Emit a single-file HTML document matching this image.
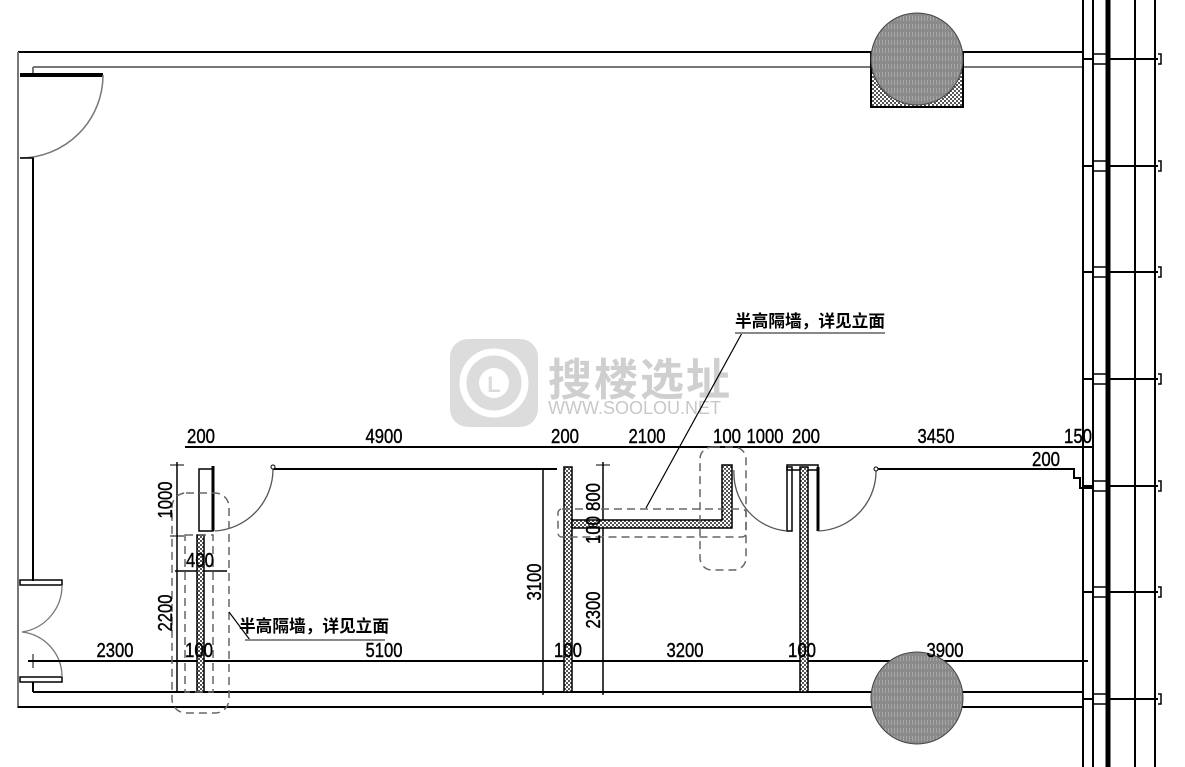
<!DOCTYPE html>
<html><head><meta charset="utf-8"><style>
html,body{margin:0;padding:0;background:#fff;}
svg{display:block;}
.d{font-family:"Liberation Sans",sans-serif;font-size:20px;fill:#000;text-anchor:middle;stroke:#000;stroke-width:0.4;}
.cn{font-family:"Liberation Sans","Noto Sans CJK SC",sans-serif;font-size:17px;font-weight:bold;fill:#000;}
</style></head><body>
<svg width="1185" height="767" viewBox="0 0 1185 767" xmlns="http://www.w3.org/2000/svg">
<defs>
<pattern id="h" width="4" height="4" patternUnits="userSpaceOnUse"><rect width="4" height="4" fill="#fff"/><rect width="2" height="2" fill="#555"/><rect x="2" y="2" width="2" height="2" fill="#555"/></pattern>
<pattern id="cg" width="3" height="8" patternUnits="userSpaceOnUse"><rect width="3" height="8" fill="#8a8a8a"/><rect width="1" height="5" fill="#a5a5a5"/></pattern>
</defs>
<!-- watermark -->
<rect x="450" y="339" width="88" height="88" rx="18" fill="#dcdcdc"/>
<circle cx="494" cy="383" r="31" fill="none" stroke="#fff" stroke-width="7"/>
<circle cx="494" cy="383" r="15" fill="#fff"/>
<text x="494" y="392" text-anchor="middle" font-family="Liberation Sans" font-weight="bold" font-size="22" fill="#dcdcdc">L</text>
<text x="548" y="395" font-family="Liberation Sans,'Noto Sans CJK SC',sans-serif" font-weight="bold" font-size="44" fill="#cfcfcf" letter-spacing="2">搜楼选址</text>
<text x="548" y="414" font-family="Liberation Sans,sans-serif" font-size="18" fill="#c8c8c8">WWW.SOOLOU.NET</text>

<g stroke="#000" fill="none" stroke-width="2">
<line x1="18" y1="52" x2="1083" y2="52"/>
<line x1="33" y1="67" x2="1083" y2="67" stroke="#777"/>
<line x1="33" y1="67" x2="33" y2="75" stroke="#777"/>
<line x1="18" y1="52" x2="18" y2="708" stroke="#777"/>
<line x1="33" y1="157" x2="33" y2="581"/>
<line x1="20" y1="75" x2="103" y2="75" stroke-width="4"/>
<path d="M103 75 A83 83 0 0 1 20 158" stroke="#777" stroke-width="1.5"/>
<line x1="20" y1="158" x2="33" y2="158" stroke-width="1.5"/>
<rect x="20" y="580" width="42" height="5" stroke-width="1.5"/>
<rect x="20" y="677" width="42" height="5" stroke-width="1.5"/>
<path d="M62 585 A47 47 0 0 1 22 632" stroke="#777" stroke-width="1.3"/>
<path d="M62 677 A45 45 0 0 0 22 632" stroke="#777" stroke-width="1.3"/>
<line x1="33" y1="682" x2="33" y2="692"/>
<line x1="33" y1="692" x2="1083" y2="692"/>
<line x1="18" y1="707" x2="1083" y2="707"/>
<line x1="185" y1="447" x2="1092" y2="447"/>
<line x1="28" y1="661" x2="1088" y2="661"/>
<line x1="33" y1="654" x2="33" y2="668" stroke-width="1"/>
<line x1="177" y1="462" x2="177" y2="692" stroke-width="1.5"/>
<line x1="170" y1="465" x2="184" y2="465" stroke-width="1"/>
<line x1="170" y1="536" x2="184" y2="536" stroke-width="1"/>
<line x1="170" y1="692" x2="184" y2="692" stroke-width="1"/>
<line x1="175" y1="571" x2="227" y2="571" stroke-width="1.5"/>
<line x1="543" y1="469" x2="543" y2="695" stroke-width="1.5"/>
<line x1="603" y1="462" x2="603" y2="695" stroke-width="1.5"/>
<line x1="596" y1="465" x2="610" y2="465" stroke-width="1"/>
<rect x="199" y="469" width="14" height="62" stroke-width="1.5"/>
<line x1="213" y1="466" x2="213" y2="531" stroke-width="3"/>
<line x1="273" y1="469" x2="557" y2="469"/>
<path d="M273 469 A62 62 0 0 1 215 531" stroke="#555" stroke-width="1.3"/>
<circle cx="273" cy="467" r="2" stroke-width="1" fill="#fff"/>
<line x1="876" y1="469" x2="1068" y2="469"/>
<path d="M1068 469 H1074 V478 H1080 V488 H1092" stroke-width="2"/>
<rect x="787" y="467" width="5" height="64" stroke-width="1.5"/>
<line x1="818" y1="467" x2="818" y2="531" stroke-width="3"/>
<rect x="787" y="465" width="31" height="5" stroke-width="1.5"/>
<path d="M734 470 A58 58 0 0 0 787 531" stroke="#555" stroke-width="1.3"/>
<path d="M818 531 A60 60 0 0 0 876 469" stroke="#555" stroke-width="1.3"/>
<circle cx="876" cy="469" r="2" stroke-width="1" fill="#fff"/>
</g>
<g stroke="#000" stroke-width="1.5" fill="url(#h)">
<rect x="564" y="467" width="8" height="225"/>
<rect x="197" y="535" width="7" height="157"/>
<rect x="800" y="467" width="8" height="225"/>
<path d="M572 520 H722 V465 H732 V528 H572 Z"/>
</g>
<g stroke="#666" stroke-width="1.5" fill="none" stroke-dasharray="8,5">
<rect x="172" y="493" width="57" height="220" rx="14"/>
<rect x="185" y="535" width="28" height="157"/>
<rect x="558" y="509" width="188" height="28" rx="4"/>
<rect x="700" y="447" width="46" height="123" rx="12"/>
</g>
<rect x="871" y="52" width="92" height="55" fill="url(#h)" stroke="#000" stroke-width="2"/>
<circle cx="917" cy="59" r="46" fill="url(#cg)" stroke="#444" stroke-width="1"/>
<circle cx="917" cy="698" r="46" fill="url(#cg)" stroke="#444" stroke-width="1"/>
<g stroke="#000" fill="none" stroke-width="2">
<line x1="1083" y1="0" x2="1083" y2="767"/>
<line x1="1093" y1="0" x2="1093" y2="767"/>
<line x1="1108" y1="0" x2="1108" y2="767" stroke-width="5"/>
<line x1="1135" y1="0" x2="1135" y2="767"/>
<line x1="1155" y1="0" x2="1155" y2="767"/>
<g id="t">
<line x1="1083" y1="59" x2="1093" y2="59"/>
<line x1="1093" y1="54" x2="1108" y2="54" stroke-width="1.5"/>
<line x1="1093" y1="64" x2="1108" y2="64" stroke-width="1.5"/>
<line x1="1108" y1="59" x2="1135" y2="59"/>
<line x1="1135" y1="59" x2="1158" y2="59"/>
<path d="M1158 54 h3 v10 h-3" stroke-width="1.5"/>
</g>
<use href="#t" y="107"/><use href="#t" y="213"/><use href="#t" y="320"/>
<use href="#t" y="427"/><use href="#t" y="533"/><use href="#t" y="640"/>
</g>
<g stroke="#000" stroke-width="1.2" fill="none">
<line x1="646" y1="508" x2="742" y2="333"/>
<line x1="735" y1="333" x2="885" y2="333" stroke="#888" stroke-width="2"/>
<line x1="229" y1="612" x2="250" y2="640"/>
<line x1="245" y1="640" x2="385" y2="640" stroke="#888" stroke-width="2"/>
</g>
<text class="cn" x="735" y="327" textLength="150" lengthAdjust="spacingAndGlyphs">半高隔墙，详见立面</text>
<text class="cn" x="239" y="632" textLength="150" lengthAdjust="spacingAndGlyphs">半高隔墙，详见立面</text>
<g class="d">
<text x="201" y="443" textLength="28" lengthAdjust="spacingAndGlyphs">200</text>
<text x="384" y="443" textLength="37" lengthAdjust="spacingAndGlyphs">4900</text>
<text x="565" y="443" textLength="28" lengthAdjust="spacingAndGlyphs">200</text>
<text x="647" y="443" textLength="37" lengthAdjust="spacingAndGlyphs">2100</text>
<text x="727" y="443" textLength="28" lengthAdjust="spacingAndGlyphs">100</text>
<text x="765" y="443" textLength="37" lengthAdjust="spacingAndGlyphs">1000</text>
<text x="806" y="443" textLength="28" lengthAdjust="spacingAndGlyphs">200</text>
<text x="936" y="443" textLength="37" lengthAdjust="spacingAndGlyphs">3450</text>
<text x="1078" y="443" textLength="28" lengthAdjust="spacingAndGlyphs">150</text>
<text x="1046" y="466" textLength="28" lengthAdjust="spacingAndGlyphs">200</text>
<text x="115" y="657" textLength="37" lengthAdjust="spacingAndGlyphs">2300</text>
<text x="199" y="657" textLength="28" lengthAdjust="spacingAndGlyphs">100</text>
<text x="384" y="657" textLength="37" lengthAdjust="spacingAndGlyphs">5100</text>
<text x="568" y="657" textLength="28" lengthAdjust="spacingAndGlyphs">100</text>
<text x="685" y="657" textLength="37" lengthAdjust="spacingAndGlyphs">3200</text>
<text x="802" y="657" textLength="28" lengthAdjust="spacingAndGlyphs">100</text>
<text x="945" y="657" textLength="37" lengthAdjust="spacingAndGlyphs">3900</text>
<text x="200" y="567" textLength="28" lengthAdjust="spacingAndGlyphs">400</text>
<text transform="translate(172,500) rotate(-90)" textLength="37" lengthAdjust="spacingAndGlyphs">1000</text>
<text transform="translate(172,613) rotate(-90)" textLength="37" lengthAdjust="spacingAndGlyphs">2200</text>
<text transform="translate(541,582) rotate(-90)" textLength="37" lengthAdjust="spacingAndGlyphs">3100</text>
<text transform="translate(600,497) rotate(-90)" textLength="28" lengthAdjust="spacingAndGlyphs">800</text>
<text transform="translate(600,530) rotate(-90)" textLength="28" lengthAdjust="spacingAndGlyphs">100</text>
<text transform="translate(600,610) rotate(-90)" textLength="37" lengthAdjust="spacingAndGlyphs">2300</text>
</g>
</svg>
</body></html>
